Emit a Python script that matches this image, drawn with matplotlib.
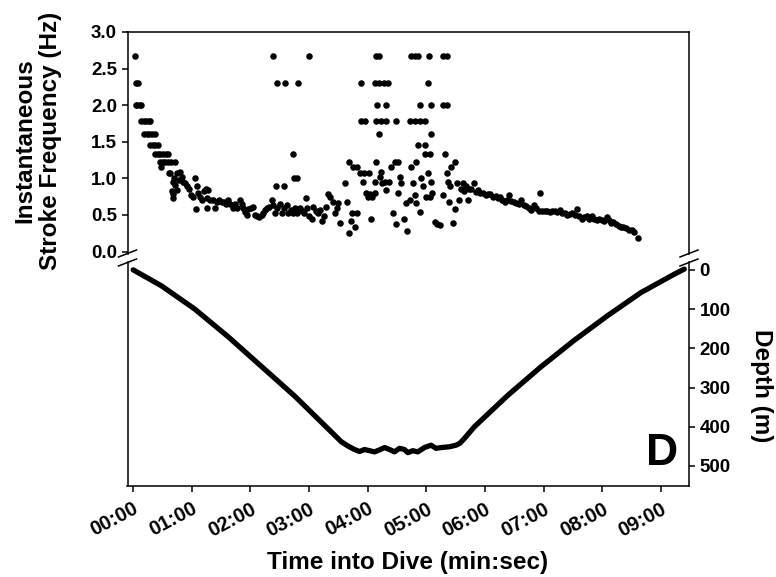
import matplotlib
matplotlib.use("Agg")
import matplotlib.pyplot as plt
from matplotlib.lines import Line2D

plt.rcParams["font.family"] = ["Liberation Sans", "DejaVu Sans"]
plt.rcParams["font.weight"] = "bold"

# instantaneous stroke frequency (time in s, frequency in Hz)
stroke_t = [
    1.7, 3.4, 5.4, 2.7, 4.7, 6.8, 8.8, 8.1, 10.9, 13.6, 16.3, 17.7,
    11.5, 14.3, 17.0, 19.7, 22.4, 17.7, 20.4, 23.1, 25.8,
    22.8, 25.5, 28.2, 30.9, 33.7, 36.4, 27.9, 30.6, 33.3, 36.0, 38.8, 43.2,
    28.9, 36.7,
    38.1, 42.2, 45.6, 48.3, 50.0, 51.0, 40.8, 43.2, 47.6, 53.4, 39.8, 41.5,
    40.8, 44.9, 55.8, 57.8, 59.2, 61.9, 63.6, 65.3, 67.0, 68.7, 64.6, 70.4,
    72.8, 74.8, 76.2, 78.9, 77.2, 76.2, 84.0, 82.3, 86.4, 88.5, 90.8, 93.2,
    95.3, 97.7, 99.4, 102.1, 104.5, 106.8, 109.6, 111.3, 113.0, 114.7, 116.4,
    118.1, 120.5, 122.5, 124.9, 127.3, 129.3, 131.7, 133.4, 135.1, 136.8,
    139.5, 141.9, 143.6, 145.3, 147.7, 150.4, 152.1, 154.5, 157.2, 158.9,
    161.3, 163.4, 165.7, 168.1, 170.8, 172.5, 174.9, 177.0, 178.3, 180.4,
    182.8, 184.5, 187.2, 189.6, 191.3, 193.0, 195.3, 197.4, 199.8, 201.5,
    204.9, 206.6, 208.3, 210.0, 211.7, 216.8, 218.5, 221.2, 222.6, 224.6,
    227.0, 229.4,
    142.9, 147.0, 155.5, 169.1, 180.0, 164.0, 164.7, 168.1, 146.3, 154.5,
    221.2, 225.3, 229.4, 232.8, 236.2, 241.6, 235.5, 247.4, 233.8, 233.8,
    237.2, 238.2, 240.6, 243.0, 245.0, 247.4, 244.0, 248.5, 251.9, 247.4,
    251.9, 256.6, 261.0, 249.8, 259.3, 249.1, 254.2, 259.3, 269.6, 251.9,
    249.1, 252.5, 255.3, 254.2, 257.6, 258.7, 262.1, 264.5, 266.2, 268.9,
    267.9, 271.3, 271.3, 273.0, 274.7, 277.0, 279.8, 280.4, 284.9, 288.3,
    291.7, 283.2, 288.3, 293.4, 298.5, 290.0, 283.2, 284.9, 286.6, 288.3,
    290.0, 293.4, 295.1, 296.8, 299.5, 291.7, 298.5, 294.1, 305.3, 302.9,
    301.9, 298.5, 303.6, 305.3, 301.9, 303.6, 305.3, 306.3, 308.7, 311.1,
    313.8, 317.4, 320.8, 317.4, 320.8, 319.1, 317.4, 320.8, 322.3, 323.3,
    324.1, 325.8, 327.5, 329.2, 329.2, 331.5, 333.6, 337.7, 342.8,
    336.0, 338.4, 341.1, 343.8, 346.2, 348.6, 350.6, 353.0, 355.4, 358.1,
    360.8, 363.2, 365.6, 368.3, 371.0, 373.4, 375.8, 377.8, 380.2, 382.6,
    384.7, 387.0, 389.4, 392.1, 394.9, 397.2, 399.6, 402.4, 405.1, 407.5,
    409.8, 412.6, 415.3, 416.7, 418.7, 421.1, 423.5, 426.2, 428.9, 431.3,
    433.7, 436.4, 439.1, 441.5, 443.9, 446.6, 449.3, 451.7, 454.1, 456.8,
    459.5, 461.9, 464.3, 467.0, 469.8, 472.1, 474.5, 477.2, 480.0, 482.3,
    484.7, 486.8, 489.1, 491.5, 494.3, 497.0, 499.4, 501.7, 504.5, 507.2,
    510.6, 513.0, 516.4,
]
stroke_hz = [
    2.67, 2.30, 2.30, 2.0, 2.0, 2.0, 2.0, 1.78, 1.78, 1.78, 1.78, 1.78,
    1.6, 1.6, 1.6, 1.6, 1.6, 1.45, 1.45, 1.45, 1.45,
    1.33, 1.33, 1.33, 1.33, 1.33, 1.33, 1.23, 1.23, 1.23, 1.23, 1.23, 1.23,
    1.15, 1.07,
    1.07, 1.01, 1.07, 1.08, 1.02, 0.95, 0.95, 0.91, 0.98, 0.93, 0.83, 0.79,
    0.73, 0.84, 0.89, 0.85, 0.77, 0.75, 1.01, 0.89, 0.80, 0.74, 0.58, 0.70,
    0.83, 0.85, 0.73, 0.71, 0.84, 0.60, 0.60, 0.71, 0.68, 0.70, 0.67, 0.68,
    0.65, 0.70, 0.65, 0.60, 0.65, 0.59, 0.70, 0.65, 0.59, 0.54, 0.50,
    0.58, 0.60, 0.61, 0.50, 0.49, 0.47, 0.50, 0.53, 0.57, 0.59,
    0.61, 0.70, 0.64, 0.52, 0.59, 0.65, 0.52, 0.59, 0.64, 0.52,
    0.57, 0.53, 0.59, 0.52, 0.60, 0.56, 0.52, 0.73, 0.59, 0.49,
    0.45, 0.61, 0.56, 0.52, 0.57, 0.42, 0.49, 0.61, 0.79, 0.74,
    0.68, 0.52, 0.59, 0.66, 0.39, 0.94, 0.67, 0.25, 0.42, 0.53,
    0.34, 0.52,
    2.67, 2.30, 2.30, 2.30, 2.67, 1.33, 1.01, 1.01, 0.90, 0.90,
    1.23, 1.16, 1.16, 1.07, 1.07, 1.07, 0.95, 0.95, 2.30, 1.78,
    1.78, 0.80, 0.75, 0.79, 0.74, 0.80, 0.45, 2.67, 2.67, 2.30,
    2.30, 2.30, 2.30, 2.0, 2.0, 1.78, 1.78, 1.78, 1.78, 1.6,
    1.23, 1.02, 0.94, 1.08, 0.95, 0.84, 0.95, 1.16, 0.52, 0.38,
    1.23, 1.23, 0.80, 1.02, 0.94, 0.44, 0.66, 0.28, 2.67, 2.67,
    2.67, 1.78, 1.78, 1.78, 1.78, 1.23, 0.71, 1.16, 0.94, 0.77,
    0.66, 0.54, 1.0, 0.89, 0.75, 1.45, 1.45, 2.0, 2.0, 2.67,
    2.30, 1.33, 1.33, 1.6, 1.07, 0.75, 0.95, 0.80, 0.41, 0.38,
    0.36, 2.67, 2.67, 2.0, 2.0, 1.33, 0.77, 1.07, 0.95, 0.67,
    0.89, 1.16, 0.39, 0.58, 1.23, 0.94, 0.70, 0.94, 0.70,
    0.86, 0.83, 0.89, 0.85, 0.86, 0.94, 0.82, 0.84, 0.80, 0.80,
    0.77, 0.78, 0.79, 0.75, 0.76, 0.73, 0.75, 0.70, 0.68, 0.71,
    0.77, 0.69, 0.67, 0.66, 0.65, 0.70, 0.64, 0.62, 0.59, 0.57,
    0.64, 0.59, 0.56, 0.80, 0.56, 0.56, 0.55, 0.54, 0.56, 0.56,
    0.54, 0.57, 0.53, 0.52, 0.50, 0.51, 0.52, 0.50, 0.58, 0.48,
    0.45, 0.47, 0.48, 0.45, 0.49, 0.45, 0.43, 0.44, 0.43, 0.42,
    0.47, 0.43, 0.39, 0.41, 0.38, 0.35, 0.34, 0.33, 0.32, 0.29,
    0.29, 0.27, 0.19,
]

# dive depth profile (time in s, depth in m)
depth_t = [0.3, 29.4, 63.3, 97.2, 131.4, 165.6, 199.2, 213.1, 219.9, 226.7,
           231.8, 236.9, 242.0, 247.2, 252.2, 257.4, 262.5, 267.6, 272.7,
           277.8, 281.2, 286.3, 291.4, 298.2, 305.0, 310.1, 315.2, 323.7,
           330.5, 334.5, 339.0, 349.3, 383.4, 417.0, 451.2, 485.4, 519.6,
           553.8, 564.0]
depth_m = [0, 41, 100, 170, 246, 322, 404, 438, 449, 458,
           463, 458, 461, 464, 459, 453, 458, 464, 455,
           458, 466, 461, 464, 453, 447, 455, 453, 451,
           447, 442, 430, 400, 320, 248, 180, 117, 58,
           11, -2]

time_ticks = [0, 60, 120, 180, 240, 300, 360, 420, 480, 540]
time_labels = ["00:00", "01:00", "02:00", "03:00", "04:00",
               "05:00", "06:00", "07:00", "08:00", "09:00"]
hz_ticks = [0.0, 0.5, 1.0, 1.5, 2.0, 2.5, 3.0]
depth_ticks = [0, 100, 200, 300, 400, 500]

W, H = 776, 577
fig = plt.figure(figsize=(W / 100, H / 100), dpi=100)

left_px, right_px = 127.5, 689
top_px, top_bot_px = 32, 254
bot_top_px, bot_px = 262, 486


def fx(px):
    return px / W


def fy(py):
    return 1 - py / H


ax_top = fig.add_axes([fx(left_px), fy(top_bot_px), fx(right_px) - fx(left_px),
                       fy(top_px) - fy(top_bot_px)])
ax_bot = fig.add_axes([fx(left_px), fy(bot_px), fx(right_px) - fx(left_px),
                       fy(bot_top_px) - fy(bot_px)])

xlim = (-5.5, 568.8)

# top panel: stroke frequency
ax_top.scatter(stroke_t, stroke_hz, s=22, color="black", linewidths=0, zorder=3)
ax_top.set_xlim(*xlim)
ax_top.set_ylim(-0.034, 3.0)
ax_top.spines["bottom"].set_visible(False)
ax_top.set_xticks([])
ax_top.set_yticks(hz_ticks)
ax_top.set_yticklabels([f"{v:.1f}" for v in hz_ticks])

# bottom panel: depth profile
ax_bot.plot(depth_t, depth_m, color="black", lw=3.8, solid_capstyle="round",
            solid_joinstyle="round")
ax_bot.set_xlim(*xlim)
ax_bot.set_ylim(551, -20)
ax_bot.spines["top"].set_visible(False)
ax_bot.yaxis.tick_right()
ax_bot.set_yticks(depth_ticks)
ax_bot.set_xticks(time_ticks)
ax_bot.set_xticklabels(time_labels, rotation=28, ha="right", rotation_mode="anchor")
ax_bot.text(0.98, 0.093, "D", transform=ax_bot.transAxes, ha="right",
            va="baseline", fontsize=32, fontweight="bold")

for ax in (ax_top, ax_bot):
    for sp in ax.spines.values():
        sp.set_linewidth(1.1)
    ax.tick_params(direction="out", length=4.5, width=1.1, labelsize=13.5, pad=3)
ax_bot.tick_params(axis="x", labelsize=14.5, pad=5)

# axis break marks
for xp in (left_px, right_px):
    for yp in (top_bot_px - 0.5, bot_top_px + 0.5):
        fig.add_artist(Line2D([fx(xp - 9), fx(xp + 9)], [fy(yp + 3.5), fy(yp - 3.5)],
                              transform=fig.transFigure, color="black", lw=1.1))

fig.text(fx(38), fy(141), "Instantaneous\nStroke Frequency (Hz)", rotation=90,
         ha="center", va="center", multialignment="center", fontsize=17.5,
         fontweight="bold", linespacing=1.15)
fig.text(fx(762), fy(386), "Depth (m)", rotation=270, ha="center", va="center",
         fontsize=17.5, fontweight="bold")
fig.text(fx(408), fy(563), "Time into Dive (min:sec)", ha="center", va="center",
         fontsize=17.5, fontweight="bold")

fig.savefig("out.png", dpi=100)
